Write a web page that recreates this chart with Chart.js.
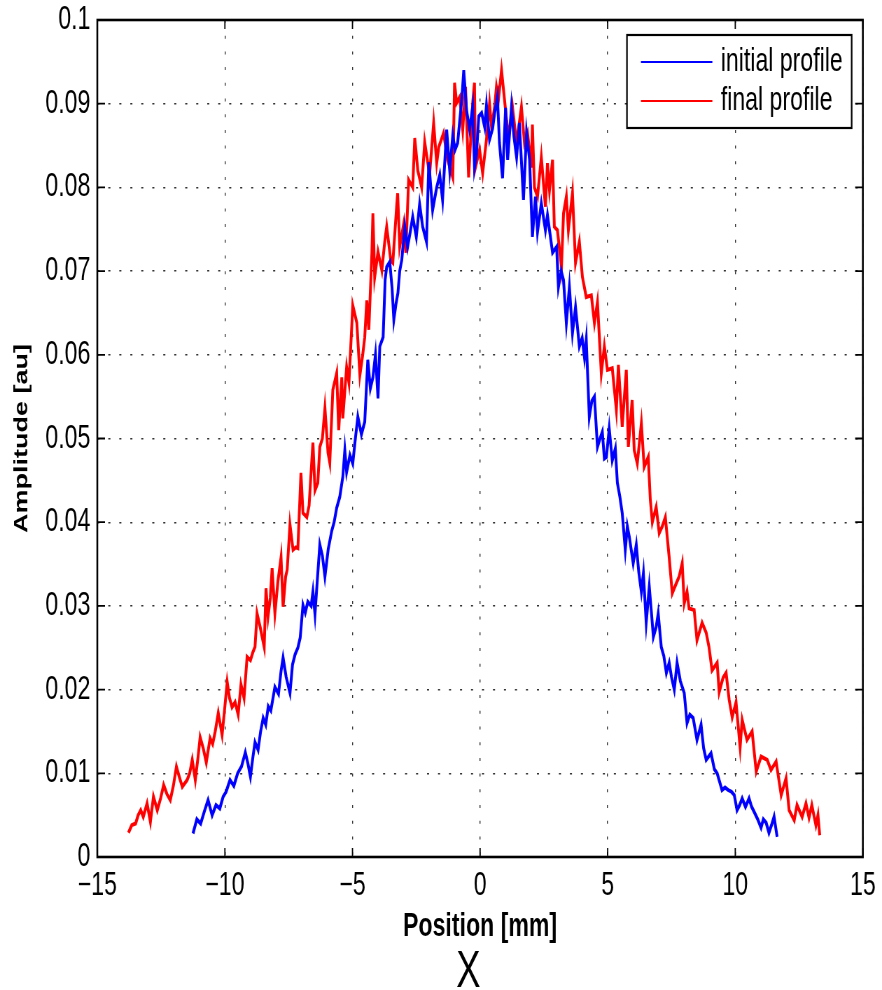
<!DOCTYPE html>
<html>
<head>
<meta charset="utf-8">
<script src="https://cdn.jsdelivr.net/npm/chart.js@4/dist/chart.umd.min.js"></script>
<style>
  html, body { margin: 0; padding: 0; background: #fff; overflow: hidden; }
  /* the original MATLAB figure was squeezed sideways, so draw wide and squeeze */
  #myChart { transform: scaleX(0.7); transform-origin: 0 0; display: block; }
</style>
</head>
<body>
<canvas id="myChart" width="1260" height="990"></canvas>
<script>
// values (position in mm, amplitude in au)
const initialX = [-11.25, -11.1, -10.95, -10.8, -10.66, -10.5, -10.35, -10.2, -10.07, -9.95, -9.8, -9.65, -9.5, -9.35, -9.2, -9.1, -9.0, -8.9, -8.82, -8.7, -8.6, -8.5, -8.4, -8.3, -8.2, -8.04, -7.9, -7.8, -7.72, -7.6, -7.45, -7.35, -7.25, -7.14, -7.05, -6.94, -6.85, -6.75, -6.62, -6.55, -6.47, -6.38, -6.28, -6.18, -6.08, -5.95, -5.81, -5.72, -5.62, -5.5, -5.38, -5.3, -5.23, -5.1, -4.99, -4.88, -4.79, -4.65, -4.52, -4.4, -4.3, -4.2, -4.1, -4.0, -3.93, -3.8, -3.72, -3.66, -3.54, -3.45, -3.38, -3.3, -3.22, -3.15, -3.07, -2.95, -2.84, -2.72, -2.64, -2.5, -2.37, -2.25, -2.1, -2.01, -1.93, -1.86, -1.7, -1.58, -1.47, -1.31, -1.19, -1.07, -0.98, -0.88, -0.72, -0.64, -0.53, -0.41, -0.29, -0.22, -0.14, -0.05, 0.06, 0.18, 0.25, 0.37, 0.49, 0.57, 0.68, 0.76, 0.88, 1.0, 1.08, 1.23, 1.33, 1.43, 1.54, 1.7, 1.82, 1.94, 2.05, 2.17, 2.25, 2.4, 2.56, 2.64, 2.84, 3.0, 3.07, 3.18, 3.27, 3.38, 3.5, 3.62, 3.74, 3.89, 4.0, 4.09, 4.16, 4.28, 4.38, 4.48, 4.6, 4.7, 4.79, 4.87, 4.95, 5.06, 5.18, 5.3, 5.38, 5.48, 5.57, 5.69, 5.77, 5.85, 6.0, 6.12, 6.22, 6.32, 6.4, 6.51, 6.63, 6.72, 6.79, 6.9, 6.98, 7.1, 7.2, 7.3, 7.41, 7.5, 7.61, 7.72, 7.85, 8.0, 8.11, 8.22, 8.35, 8.5, 8.66, 8.76, 8.86, 9.05, 9.18, 9.29, 9.48, 9.6, 9.72, 9.85, 9.96, 10.07, 10.17, 10.27, 10.4, 10.54, 10.64, 10.74, 10.88, 11.01, 11.1, 11.21, 11.32, 11.42, 11.52, 11.64];
const initialY = [0.0028, 0.0045, 0.0040, 0.0055, 0.0068, 0.0050, 0.0062, 0.0058, 0.0072, 0.0078, 0.0092, 0.0085, 0.0100, 0.0108, 0.0125, 0.0112, 0.0096, 0.0120, 0.0137, 0.0128, 0.0150, 0.0166, 0.0158, 0.0180, 0.0175, 0.0203, 0.0195, 0.0222, 0.0238, 0.0215, 0.0196, 0.0230, 0.0242, 0.0250, 0.0262, 0.0301, 0.0292, 0.0305, 0.0300, 0.0317, 0.0290, 0.0330, 0.0373, 0.0360, 0.0335, 0.0368, 0.0390, 0.0400, 0.0417, 0.0430, 0.0454, 0.0486, 0.0460, 0.0480, 0.0470, 0.0502, 0.0526, 0.0505, 0.0520, 0.0594, 0.0560, 0.0573, 0.0600, 0.0548, 0.0610, 0.0621, 0.0690, 0.0705, 0.0711, 0.0680, 0.0642, 0.0660, 0.0674, 0.0700, 0.0713, 0.0753, 0.0729, 0.0750, 0.0765, 0.0741, 0.0780, 0.0753, 0.0735, 0.0830, 0.0800, 0.0773, 0.0800, 0.0815, 0.0785, 0.0869, 0.0820, 0.0862, 0.0845, 0.0853, 0.0904, 0.0940, 0.0892, 0.0869, 0.0896, 0.0824, 0.0840, 0.0885, 0.0889, 0.0872, 0.0898, 0.0857, 0.0870, 0.0889, 0.0908, 0.0853, 0.0811, 0.0895, 0.0833, 0.0896, 0.0860, 0.0836, 0.0877, 0.0785, 0.0865, 0.0833, 0.0741, 0.0789, 0.0747, 0.0781, 0.0749, 0.0767, 0.0722, 0.0729, 0.0681, 0.0700, 0.0689, 0.0638, 0.0681, 0.0626, 0.0657, 0.0610, 0.0620, 0.0597, 0.0618, 0.0526, 0.0545, 0.0550, 0.0490, 0.0500, 0.0508, 0.0476, 0.0478, 0.0512, 0.0474, 0.0488, 0.0447, 0.0430, 0.0411, 0.0367, 0.0395, 0.0382, 0.0351, 0.0373, 0.0340, 0.0317, 0.0339, 0.0280, 0.0323, 0.0290, 0.0263, 0.0275, 0.0291, 0.0251, 0.0240, 0.0220, 0.0232, 0.0215, 0.0200, 0.0232, 0.0210, 0.0196, 0.0160, 0.0170, 0.0166, 0.0140, 0.0158, 0.0130, 0.0116, 0.0124, 0.0105, 0.0100, 0.0080, 0.0083, 0.0080, 0.0078, 0.0074, 0.0056, 0.0062, 0.0070, 0.0060, 0.0070, 0.0060, 0.0054, 0.0045, 0.0035, 0.0045, 0.0041, 0.0029, 0.0038, 0.0048, 0.0024];

const finalX = [-13.78, -13.65, -13.5, -13.4, -13.3, -13.2, -13.05, -12.92, -12.8, -12.65, -12.52, -12.4, -12.27, -12.14, -12.02, -11.9, -11.78, -11.67, -11.48, -11.38, -11.28, -11.16, -11.05, -10.97, -10.85, -10.73, -10.58, -10.48, -10.38, -10.26, -10.11, -10.0, -9.91, -9.82, -9.72, -9.6, -9.48, -9.37, -9.25, -9.13, -9.0, -8.9, -8.82, -8.74, -8.62, -8.46, -8.39, -8.31, -8.22, -8.15, -8.04, -7.92, -7.8, -7.72, -7.62, -7.56, -7.45, -7.33, -7.22, -7.14, -7.02, -6.94, -6.79, -6.7, -6.63, -6.55, -6.47, -6.36, -6.28, -6.18, -6.08, -5.96, -5.89, -5.77, -5.62, -5.54, -5.42, -5.38, -5.23, -5.14, -5.03, -4.99, -4.83, -4.71, -4.6, -4.52, -4.44, -4.36, -4.24, -4.2, -4.13, -4.0, -3.85, -3.73, -3.66, -3.5, -3.42, -3.27, -3.23, -3.15, -2.99, -2.91, -2.8, -2.64, -2.56, -2.44, -2.29, -2.17, -1.98, -1.82, -1.7, -1.62, -1.43, -1.27, -1.07, -1.0, -0.92, -0.8, -0.68, -0.57, -0.45, -0.29, -0.22, -0.18, -0.02, 0.1, 0.25, 0.37, 0.45, 0.57, 0.64, 0.72, 0.84, 0.96, 1.04, 1.12, 1.27, 1.43, 1.62, 1.74, 1.86, 2.01, 2.05, 2.13, 2.25, 2.4, 2.56, 2.64, 2.72, 2.84, 2.91, 3.03, 3.19, 3.27, 3.38, 3.46, 3.62, 3.74, 3.89, 4.01, 4.16, 4.36, 4.48, 4.6, 4.75, 4.87, 4.99, 5.18, 5.34, 5.42, 5.57, 5.73, 5.81, 5.96, 6.04, 6.16, 6.32, 6.43, 6.59, 6.67, 6.75, 6.9, 7.02, 7.14, 7.26, 7.41, 7.53, 7.69, 7.8, 7.92, 8.0, 8.11, 8.19, 8.39, 8.5, 8.7, 8.86, 8.97, 9.09, 9.29, 9.37, 9.52, 9.64, 9.76, 9.88, 10.03, 10.19, 10.27, 10.46, 10.66, 10.82, 11.01, 11.25, 11.4, 11.6, 11.8, 11.99, 12.11, 12.31, 12.42, 12.62, 12.77, 12.89, 13.0, 13.16, 13.24, 13.31];
const finalY = [0.0029, 0.0038, 0.0040, 0.0050, 0.0056, 0.0048, 0.0064, 0.0042, 0.0072, 0.0056, 0.0070, 0.0086, 0.0075, 0.0068, 0.0085, 0.0108, 0.0095, 0.0084, 0.0092, 0.0100, 0.0116, 0.0092, 0.0120, 0.0143, 0.0130, 0.0113, 0.0142, 0.0135, 0.0150, 0.0172, 0.0146, 0.0180, 0.0209, 0.0190, 0.0179, 0.0185, 0.0170, 0.0206, 0.0190, 0.0239, 0.0235, 0.0245, 0.0251, 0.0291, 0.0275, 0.0251, 0.0321, 0.0287, 0.0310, 0.0345, 0.0291, 0.0330, 0.0358, 0.0299, 0.0335, 0.0343, 0.0397, 0.0367, 0.0370, 0.0369, 0.0459, 0.0411, 0.0406, 0.0420, 0.0456, 0.0495, 0.0438, 0.0447, 0.0490, 0.0500, 0.0536, 0.0483, 0.0471, 0.0558, 0.0578, 0.0510, 0.0573, 0.0524, 0.0585, 0.0567, 0.0633, 0.0659, 0.0638, 0.0576, 0.0600, 0.0621, 0.0665, 0.0630, 0.0722, 0.0769, 0.0693, 0.0723, 0.0701, 0.0737, 0.0753, 0.0713, 0.0710, 0.0777, 0.0793, 0.0729, 0.0757, 0.0722, 0.0809, 0.0800, 0.0859, 0.0820, 0.0800, 0.0854, 0.0815, 0.0877, 0.0829, 0.0848, 0.0865, 0.0833, 0.0812, 0.0925, 0.0901, 0.0908, 0.0869, 0.0920, 0.0812, 0.0901, 0.0925, 0.0824, 0.0845, 0.0817, 0.0857, 0.0900, 0.0872, 0.0896, 0.0920, 0.0905, 0.0940, 0.0904, 0.0880, 0.0860, 0.0896, 0.0853, 0.0896, 0.0853, 0.0865, 0.0824, 0.0875, 0.0800, 0.0789, 0.0836, 0.0777, 0.0829, 0.0797, 0.0833, 0.0753, 0.0749, 0.0705, 0.0769, 0.0789, 0.0749, 0.0793, 0.0710, 0.0735, 0.0693, 0.0669, 0.0671, 0.0638, 0.0663, 0.0578, 0.0610, 0.0582, 0.0584, 0.0534, 0.0588, 0.0514, 0.0582, 0.0490, 0.0546, 0.0486, 0.0470, 0.0518, 0.0466, 0.0478, 0.0427, 0.0400, 0.0418, 0.0387, 0.0395, 0.0406, 0.0358, 0.0315, 0.0327, 0.0335, 0.0351, 0.0303, 0.0317, 0.0297, 0.0295, 0.0259, 0.0280, 0.0268, 0.0251, 0.0223, 0.0232, 0.0197, 0.0214, 0.0220, 0.0188, 0.0167, 0.0185, 0.0131, 0.0164, 0.0140, 0.0150, 0.0102, 0.0120, 0.0116, 0.0104, 0.0114, 0.0074, 0.0094, 0.0056, 0.0044, 0.0062, 0.0048, 0.0064, 0.0047, 0.0062, 0.0038, 0.0050, 0.0026];

const seriesLabels = ['initial profile', 'final profile'];
const xTicks = [-15, -10, -5, 0, 5, 10, 15];
const yTicks = [0, 0.01, 0.02, 0.03, 0.04, 0.05, 0.06, 0.07, 0.08, 0.09, 0.1];

const FONT = "'Liberation Sans', Arial, Helvetica, sans-serif";

function toPoints(xs, ys) {
  return xs.map((x, i) => ({ x: x, y: ys[i] }));
}

// box round the plot with MATLAB style ticks pointing inwards
const frameAndTicks = {
  id: 'frameAndTicks',
  afterDatasetsDraw(chart) {
    const { ctx, chartArea: a, scales } = chart;
    ctx.save();
    ctx.strokeStyle = '#000';
    ctx.lineWidth = 1.8;
    ctx.beginPath();
    xTicks.forEach(v => {
      const px = scales.x.getPixelForValue(v);
      ctx.moveTo(px, a.bottom); ctx.lineTo(px, a.bottom - 9);
      ctx.moveTo(px, a.top); ctx.lineTo(px, a.top + 9);
    });
    yTicks.forEach(v => {
      const py = scales.y.getPixelForValue(v);
      ctx.moveTo(a.left, py); ctx.lineTo(a.left + 11, py);
      ctx.moveTo(a.right, py); ctx.lineTo(a.right - 11, py);
    });
    ctx.stroke();
    ctx.lineWidth = 2.6;
    ctx.strokeRect(a.left, a.top, a.right - a.left, a.bottom - a.top);
    ctx.restore();
  }
};

// legend box top right, drawn like the MATLAB one, plus the big X under the axis
const boxLegend = {
  id: 'boxLegend',
  afterDraw(chart) {
    const { ctx, chartArea: a } = chart;
    const left = a.right - 337, top = a.top + 15, w = 321, h = 93;
    ctx.save();
    ctx.fillStyle = '#fff';
    ctx.fillRect(left, top, w, h);
    ctx.strokeStyle = '#000';
    ctx.lineWidth = 2.2;
    ctx.strokeRect(left, top, w, h);
    ctx.font = '33px ' + FONT;
    ctx.textBaseline = 'middle';
    chart.data.datasets.forEach((ds, i) => {
      const y = top + 27 + i * 39;
      ctx.strokeStyle = ds.borderColor;
      ctx.lineWidth = 1.8;
      ctx.beginPath();
      ctx.moveTo(left + 20, y); ctx.lineTo(left + 122, y);
      ctx.stroke();
      ctx.fillStyle = '#000';
      ctx.fillText(ds.label, left + 134, y);
    });
    ctx.fillStyle = '#000';
    ctx.font = '52px ' + FONT;
    ctx.textAlign = 'center';
    ctx.textBaseline = 'alphabetic';
    ctx.fillText('X', 669, 987);
    ctx.restore();
  }
};

Chart.defaults.color = '#000';
Chart.defaults.font.family = FONT;

const ctx = document.getElementById('myChart');
new Chart(ctx, {
  type: 'line',
  data: {
    datasets: [
      {
        label: seriesLabels[0],
        data: toPoints(initialX, initialY),
        borderColor: '#0000ff',
        backgroundColor: '#0000ff',
        borderWidth: 4,
        pointRadius: 0,
        tension: 0
      },
      {
        label: seriesLabels[1],
        data: toPoints(finalX, finalY),
        borderColor: '#ff0000',
        backgroundColor: '#ff0000',
        borderWidth: 4,
        pointRadius: 0,
        tension: 0
      }
    ]
  },
  options: {
    responsive: false,
    devicePixelRatio: 1,
    animation: false,
    layout: { padding: { top: 20, right: 26, left: 0, bottom: 0 } },
    plugins: {
      legend: { display: false },
      tooltip: { enabled: false }
    },
    scales: {
      x: {
        type: 'linear',
        min: -15,
        max: 15,
        afterFit: scale => { scale.height = 133; },
        afterBuildTicks: scale => { scale.ticks = xTicks.map(v => ({ value: v })); },
        ticks: {
          font: { size: 33 },
          padding: 9,
          callback: v => String(v).replace('-', '\u2212')
        },
        grid: { color: '#333', lineWidth: 1.4, drawTicks: false },
        border: { display: false, dash: [3, 12.7] },
        title: {
          display: true,
          text: 'Position [mm]',
          font: { size: 33, weight: 'bold' },
          padding: { top: 0, bottom: 43 }
        }
      },
      y: {
        min: 0,
        max: 0.1,
        afterFit: scale => {
          scale.width = 139;
          // let the top label hang over the frame like MATLAB does
          scale.paddingTop = 0;
          scale.paddingBottom = 0;
        },
        afterBuildTicks: scale => { scale.ticks = yTicks.map(v => ({ value: v })); },
        ticks: {
          font: { size: 33 },
          padding: 10,
          callback: v => String(parseFloat(v.toFixed(2)))
        },
        grid: { color: '#333', lineWidth: 1.4, drawTicks: false },
        border: { display: false, dash: [3, 12.7] },
        title: {
          display: true,
          text: 'Amplitude [au]',
          font: { size: 27, weight: 'bold' },
          padding: { top: 15, bottom: 0 }
        }
      }
    }
  },
  plugins: [frameAndTicks, boxLegend]
});
</script>
</body>
</html>
